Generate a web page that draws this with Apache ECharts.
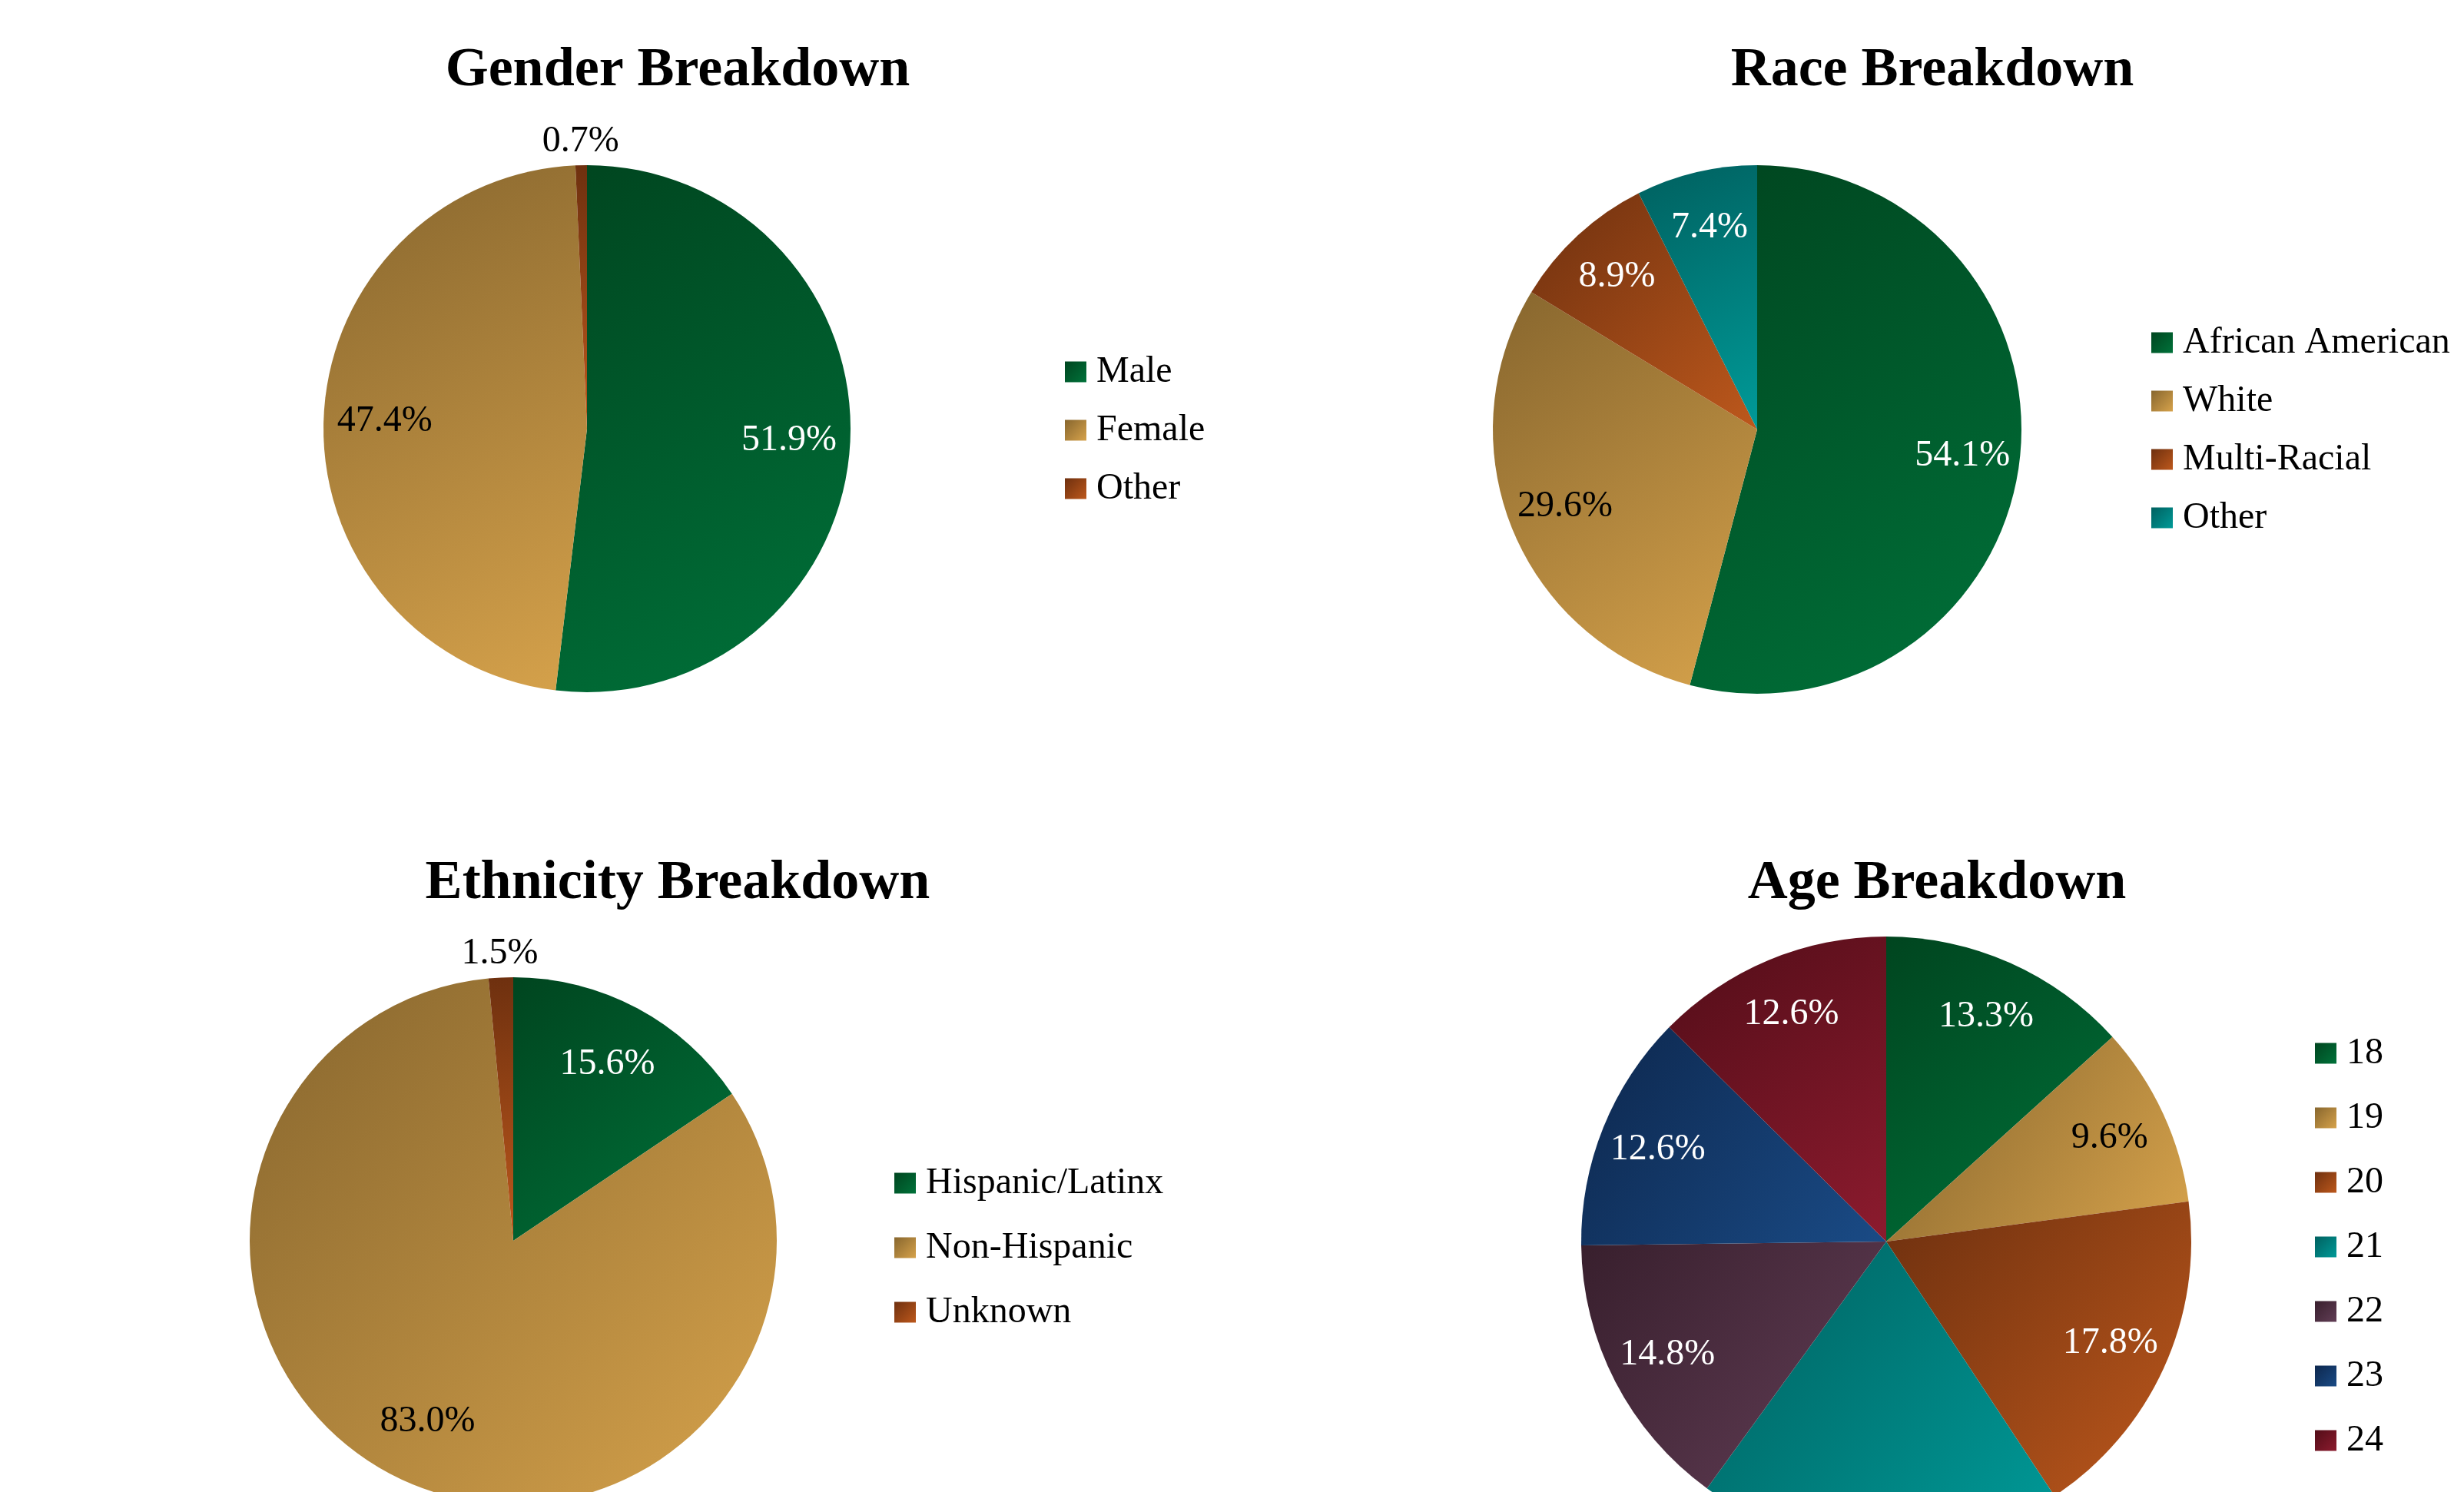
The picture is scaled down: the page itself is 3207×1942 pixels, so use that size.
<!DOCTYPE html>
<html>
<head>
<meta charset="utf-8">
<script src="https://cdn.jsdelivr.net/npm/echarts@6/dist/echarts.min.js"></script>
<style>
html,body{margin:0;padding:0;background:#ffffff;}
#chart{width:3207px;height:1942px;}
</style>
</head>
<body>
<div id="chart"></div>
<script>
// ---------- DATA ----------
const genderCategories = ['Male', 'Female', 'Other'];
const genderValues = [51.9, 47.4, 0.7];

const raceCategories = ['African American', 'White', 'Multi-Racial', 'Other'];
const raceValues = [54.1, 29.6, 8.9, 7.4];

const ethnicityCategories = ['Hispanic/Latinx', 'Non-Hispanic', 'Unknown'];
const ethnicityValues = [15.6, 83.0, 1.5];

const ageCategories = ['18', '19', '20', '21', '22', '23', '24'];
const ageValues = [13.3, 9.6, 17.8, 19.3, 14.8, 12.6, 12.6];

const chartTitles = ['Gender Breakdown', 'Race Breakdown', 'Ethnicity Breakdown', 'Age Breakdown'];

// ---------- STYLE ----------
const FONT = "'Liberation Serif', 'DejaVu Serif', serif";
const C = {
  green:  ['#00451f', '#00723a'],
  gold:   ['#87662e', '#d6a24b'],
  rust:   ['#6e300f', '#bd581c'],
  teal:   ['#00605f', '#009a98'],
  plum:   ['#381f2d', '#623e56'],
  navy:   ['#0d274d', '#1a4b86'],
  maroon: ['#520d18', '#8c1b2e']
};
function grad(pair) {
  return new echarts.graphic.LinearGradient(0, 0, 1, 1, [
    { offset: 0, color: pair[0] },
    { offset: 1, color: pair[1] }
  ]);
}

const pies = [
  { title: chartTitles[0], names: genderCategories, values: genderValues,
    colors: [C.green, C.gold, C.rust], labelColors: ['#fff', '#000', '#000'],
    outside: ['Other'], hidden: [],
    center: [764, 558], r: 343, inner: 0.52, titleX: 882, titleTop: 56,
    legendLeft: 1386, legendTop: 460, legendGap: 28 },
  { title: chartTitles[1], names: raceCategories, values: raceValues,
    colors: [C.green, C.gold, C.rust, C.teal], labelColors: ['#fff', '#000', '#fff', '#fff'],
    outside: [], hidden: [],
    center: [2287, 559], r: 344, inner: 0.55, titleX: 2515, titleTop: 56,
    legendLeft: 2800, legendTop: 422, legendGap: 28 },
  { title: chartTitles[2], names: ethnicityCategories, values: ethnicityValues,
    colors: [C.green, C.gold, C.rust], labelColors: ['#fff', '#000', '#000'],
    outside: ['Unknown'], hidden: [],
    center: [668, 1615], r: 343, inner: 0.5, titleX: 882, titleTop: 1114,
    legendLeft: 1164, legendTop: 1516, legendGap: 36 },
  { title: chartTitles[3], names: ageCategories, values: ageValues,
    colors: [C.green, C.gold, C.rust, C.teal, C.plum, C.navy, C.maroon],
    labelColors: ['#fff', '#000', '#fff', '#fff', '#fff', '#fff', '#fff'],
    outside: [], hidden: ['21'],
    center: [2455, 1616], r: 397, inner: 0.6, titleX: 2521, titleTop: 1114,
    legendLeft: 3013, legendTop: 1347, legendGap: 36 }
];

const title = [], legend = [], series = [];
pies.forEach(function (p) {
  title.push({
    text: p.title, left: p.titleX, top: p.titleTop, textAlign: 'center', padding: 0,
    textStyle: { fontFamily: FONT, fontSize: 72, fontWeight: 'bold', color: '#000', lineHeight: 72 }
  });
  legend.push({
    orient: 'vertical', left: p.legendLeft, top: p.legendTop, padding: 0,
    itemWidth: 28, itemHeight: 27, itemGap: p.legendGap, icon: 'rect',
    selectedMode: false,
    textStyle: { fontFamily: FONT, fontSize: 48, lineHeight: 48, color: '#000', padding: [0, 0, 0, 8] },
    data: p.names.map(function (n, i) { return { name: n, itemStyle: { color: grad(p.colors[i]) } }; })
  });
  series.push({
    type: 'pie', center: p.center, radius: p.r, startAngle: 90, clockwise: true,
    silent: true, animation: false, avoidLabelOverlap: false,
    label: { show: false }, labelLine: { show: false },
    itemStyle: { borderWidth: 0 },
    emphasis: { disabled: true },
    data: p.names.map(function (n, i) {
      return { name: n, value: p.values[i], itemStyle: { color: grad(p.colors[i]) } };
    })
  });
  series.push({
    type: 'pie', center: p.center, radius: [Math.round(p.r * p.inner), p.r],
    startAngle: 90, clockwise: true, silent: true, animation: false,
    avoidLabelOverlap: false, legendHoverLink: false, minShowLabelAngle: 0,
    itemStyle: { color: 'rgba(0,0,0,0)', borderWidth: 0 },
    emphasis: { disabled: true },
    label: {
      show: true, position: 'inside', fontFamily: FONT, fontSize: 48, lineHeight: 48,
      formatter: function (d) { return d.value.toFixed(1) + '%'; }
    },
    labelLine: { show: false },
    labelLayout: function (params) {
      return p.outside.indexOf(p.names[params.dataIndex]) >= 0 ? { align: 'center' } : {};
    },
    data: p.names.map(function (n, i) {
      const isOut = p.outside.indexOf(n) >= 0;
      return {
        name: n, value: p.values[i],
        label: {
          show: p.hidden.indexOf(n) < 0,
          color: p.labelColors[i],
          position: isOut ? 'outside' : 'inside',
          distanceToLabelLine: 0
        },
        labelLine: { show: false, length: 31, length2: 0 }
      };
    })
  });
});

const chart = echarts.init(document.getElementById('chart'), null, { renderer: 'canvas' });
chart.setOption({
  backgroundColor: '#ffffff',
  animation: false,
  title: title,
  legend: legend,
  series: series
});
</script>
</body>
</html>
